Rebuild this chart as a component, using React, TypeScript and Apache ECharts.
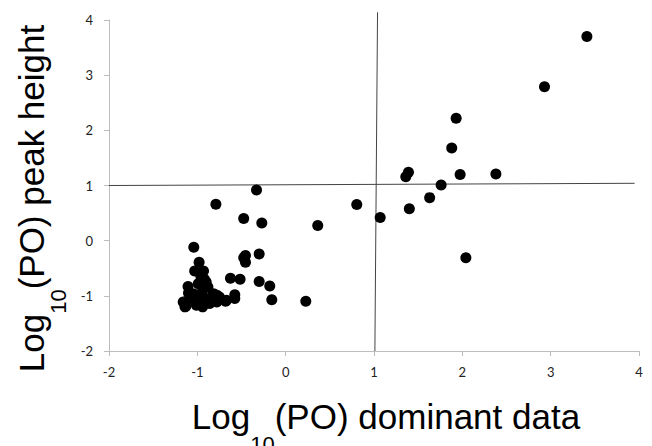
import React, { useEffect, useRef } from "react";
import * as echarts from "echarts";

// Upper / scattered points [log10 dominant, log10 peak height]
const spreadPoints: number[][] = [
  [3.41, 3.7], [2.93, 2.79], [1.93, 2.22], [1.88, 1.68], [1.39, 1.24], [1.36, 1.16],
  [1.975, 1.2], [2.38, 1.21], [1.76, 1.01], [1.63, 0.78], [1.4, 0.58], [1.07, 0.42],
  [0.805, 0.656], [0.363, 0.275], [2.04, -0.31],
  [-0.33, 0.92], [-0.79, 0.66], [-0.475, 0.4], [-0.27, 0.32], [-1.04, -0.12],
  [-0.455, -0.27], [-0.475, -0.31], [-0.455, -0.39], [-0.3, -0.24], [-0.98, -0.39],
  [-1.03, -0.55], [-0.93, -0.55], [-0.625, -0.68], [-0.516, -0.7], [-0.3, -0.74],
  [-0.18, -0.82], [-0.157, -1.07], [0.228, -1.1], [-0.576, -1.05], [-0.576, -0.98],
  [-0.68, -1.1], [-0.777, -0.99], [-1.105, -0.83], [-1.14, -1.11], [-1.13, -1.19],
];

// Dense cluster near (-1, -1)
const clusterPoints: number[][] = [
  [-0.9, -0.75], [-1.16, -1.11], [-1.14, -1.2], [-1.01, -1.17], [-0.86, -1.14],
  [-0.75, -1.02], [-0.67, -1.08], [-0.94, -0.9], [-1.05, -0.96], [-0.97, -1.05],
  [-0.82, -0.96], [-0.88, -0.84], [-0.99, -0.78], [-1.07, -1.05], [-0.78, -1.11],
  [-0.94, -1.2], [-0.96, -0.65], [-0.92, -0.7], [-1.0, -1.0], [-0.9, -1.05],
  [-1.1, -0.95], [-0.85, -1.05],
];

// Reference lines
const verticalRef: number[][] = [[1.01, -2], [1.04, 4.14]];
const horizontalRef: number[][] = [[-2, 1.0], [3.95, 1.04]];

const xTicks = [-2, -1, 0, 1, 2, 3, 4];
const yTicks = [-2, -1, 0, 1, 2, 3, 4];

const titleRich = {
  a: { fontFamily: "Liberation Sans", fontSize: 35, lineHeight: 40, verticalAlign: "top", color: "#000" },
  b: { fontFamily: "Liberation Sans", fontSize: 22, lineHeight: 22, padding: [34, 0, 0, 0], verticalAlign: "top", color: "#000" },
};

export default function App() {
  const ref = useRef<HTMLDivElement>(null);
  useEffect(() => {
    if (!ref.current) return;
    const chart = echarts.init(ref.current, undefined, { renderer: "svg" });
    const axisCommon = {
      type: "value" as const,
      min: -2,
      max: 4,
      interval: 1,
      splitLine: { show: false },
      axisLine: { show: true, onZero: false, lineStyle: { color: "#bdbdbd", width: 1 } },
      axisTick: { show: true, length: 5, lineStyle: { color: "#bdbdbd" } },
      nameLocation: "middle" as const,
    };
    chart.setOption({
      animation: false,
      backgroundColor: "#fff",
      grid: {
        left: 109,
        right: 13,
        top: 20,
        bottom: 95,
        containLabel: false,
        outerBoundsMode: "none",
      },
      xAxis: {
        ...axisCommon,
        axisLabel: {
          margin: 14,
          fontFamily: "Lato",
          fontSize: 13,
          color: "#222",
          formatter: (v: number) => (xTicks.includes(v) ? String(v) : ""),
        },
        name: "{a|Log}{b|10}{a|(PO) dominant data}",
        nameGap: 48,
        nameTextStyle: { rich: titleRich, padding: [0, 0, 0, 24] },
      },
      yAxis: {
        ...axisCommon,
        axisLabel: {
          margin: 16,
          fontFamily: "Lato",
          fontSize: 13,
          color: "#222",
          formatter: (v: number) => (yTicks.includes(v) ? String(v) : ""),
        },
        name: "{a|Log}{b|10}{a|(PO) peak height}",
        nameGap: 29,
        nameTextStyle: { rich: titleRich, padding: [0, 26, 0, 0] },
      },
      series: [
        {
          type: "line",
          data: verticalRef,
          showSymbol: false,
          clip: false,
          silent: true,
          lineStyle: { color: "#444", width: 1 },
          z: 1,
        },
        {
          type: "line",
          data: horizontalRef,
          showSymbol: false,
          clip: false,
          silent: true,
          lineStyle: { color: "#444", width: 1 },
          z: 1,
        },
        {
          type: "scatter",
          data: [...spreadPoints, ...clusterPoints],
          symbolSize: 11,
          itemStyle: { color: "#000", opacity: 1 },
          z: 3,
        },
      ],
    });
    return () => chart.dispose();
  }, []);
  return (
    <div
      ref={ref}
      style={{ position: "fixed", left: 0, top: 0, width: 652, height: 446 }}
    />
  );
}
